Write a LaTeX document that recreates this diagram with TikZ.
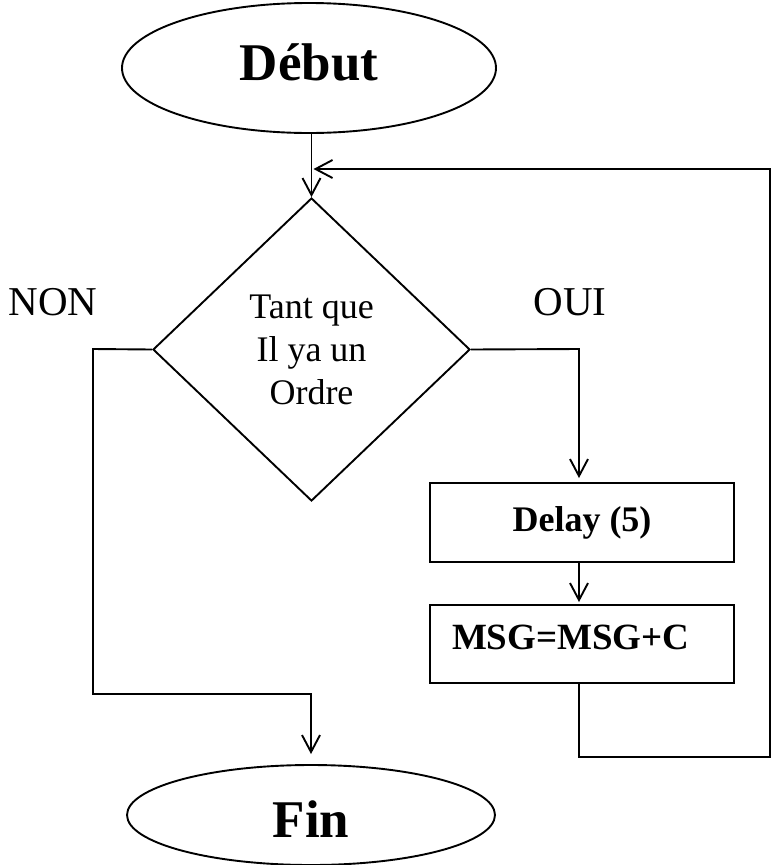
\documentclass[tikz,border=0pt]{standalone}
\usepackage{fontspec}
\setmainfont{Liberation Serif}
\usetikzlibrary{arrows.meta,shapes.geometric,positioning,calc}

\begin{document}
\begin{tikzpicture}[x=1pt, y=-1pt, line width=1.9pt,
  terminal/.style={ellipse, draw, inner sep=0pt, font=\fontsize{53}{60}\selectfont\bfseries},
  decision/.style={diamond, draw, inner sep=0pt, minimum width=317pt, minimum height=303pt,
    align=center, font=\fontsize{36}{43}\selectfont},
  process/.style={rectangle, draw, inner sep=0pt, minimum width=304pt, minimum height=79pt,
    font=\fontsize{36}{43}\selectfont\bfseries},
  branch/.style={font=\fontsize{41}{48}\selectfont},
  flow/.style={-{Straight Barb[length=17pt, width=18pt]}}
]
  % Page frame (reference proportions)
  \useasboundingbox (0,0) rectangle (771,865);

  % Start / end ellipses
  \node[terminal, minimum width=374pt, minimum height=130pt, text depth=12pt] (debut) at (309,68) {Début};
  \node[terminal, minimum width=368pt, minimum height=100pt, text height=45pt] (fin) at (311,815) {Fin};

  % Loop test
  \node[decision] (cond) at (311.5,349.5) {Tant que\\Il ya un\\Ordre};
  \node[branch] (non) at (53,302) {NON};
  \node[branch] (oui) at (570,302) {OUI};

  % Loop body
  \node[process] (delay) at (582,522.5) {Delay (5)};
  \node[process, minimum height=78pt, text width=260pt, inner xsep=22pt, align=left,
    text depth=13pt, font=\fontsize{37}{43}\selectfont\bfseries] (msg) at (582,644) {MSG=MSG+C};

  % Corner points of the connectors
  \coordinate (yesTurn) at (579,349);
  \coordinate (noTop) at (93,349);
  \coordinate (noBot) at (93,694);
  \coordinate (loopBL) at (579,757);
  \coordinate (loopBR) at (770,757);
  \coordinate (loopTR) at (770,169);

  % Main flow
  \draw[flow] (debut.south -| cond.north) -- (cond.north);
  \draw[flow, shorten >=4pt] (cond.east) -- (yesTurn) -- (yesTurn |- delay.north);
  \draw[flow, shorten >=2pt] (delay.south -| yesTurn) -- (msg.north -| yesTurn);

  % Back to the test
  \draw[flow, shorten >=2pt] (msg.south -| loopBL) -- (loopBL) -- (loopBR) -- (loopTR) -- (loopTR -| cond.north);

  % Exit of the loop
  \draw[flow] (cond.west) -- (noTop) -- (noBot) -- (noBot -| fin.north) -- ([yshift=10pt]fin.north);
\end{tikzpicture}
\end{document}
